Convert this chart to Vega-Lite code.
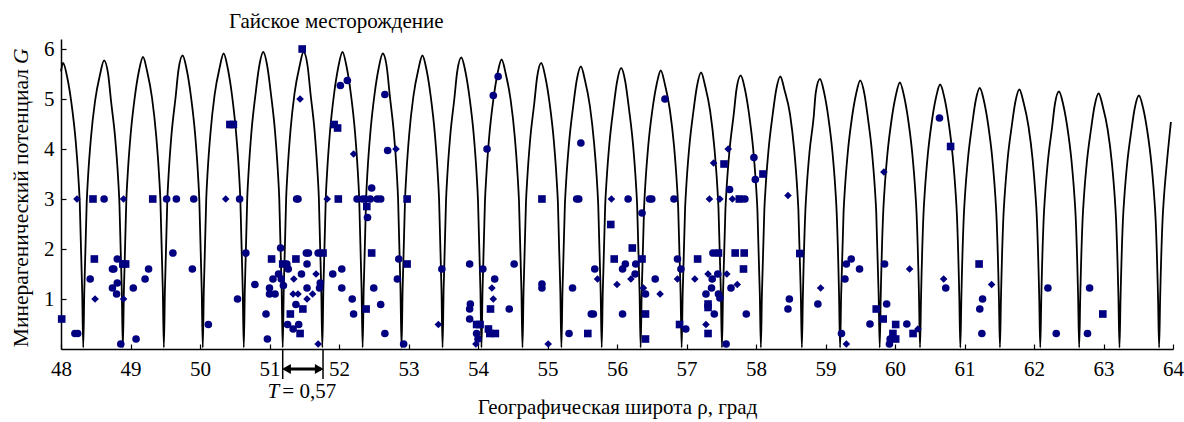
{
"$schema": "https://vega.github.io/schema/vega-lite/v6.json",
"width": 1112, "height": 310,
"autosize": {"type": "none"},
"padding": {"left": 61, "top": 39, "right": 11, "bottom": 73},
"background": "white",
"config": {"view": {"stroke": null},
"axis": {"grid": false, "domainColor": "black", "domainWidth": 1.5, "tickColor": "black", "tickSize": -5, "tickWidth": 1.2,
"labelFont": "Liberation Serif", "labelFontSize": 21, "labelColor": "black", "labelFlush": false, "labelOverlap": false,
"titleFont": "Liberation Serif", "titleFontSize": 21, "titleFontWeight": "normal", "titleColor": "black"}},
"data": {"values": [{}]},
"datasets": {
"curve": [
{"x":48.00,"y":5.55},{"x":48.03,"y":5.72},{"x":48.09,"y":5.43},{"x":48.15,"y":4.92},{"x":48.21,"y":4.18},{"x":48.25,"y":3.43},{"x":48.27,"y":2.92},{"x":48.305,"y":1.14},{"x":48.32,"y":0.03},
{"x":48.335,"y":1.15},{"x":48.37,"y":2.94},{"x":48.39,"y":3.46},{"x":48.43,"y":4.21},{"x":48.49,"y":4.96},{"x":48.56,"y":5.48},{"x":48.62,"y":5.77},{"x":48.68,"y":5.48},{"x":48.72,"y":4.96},{"x":48.78,"y":4.21},{"x":48.82,"y":3.46},{"x":48.84,"y":2.94},{"x":48.875,"y":1.15},{"x":48.89,"y":0.03},
{"x":48.905,"y":1.17},{"x":48.94,"y":2.98},{"x":48.96,"y":3.50},{"x":49.00,"y":4.26},{"x":49.06,"y":5.02},{"x":49.12,"y":5.55},{"x":49.18,"y":5.84},{"x":49.24,"y":5.55},{"x":49.31,"y":5.02},{"x":49.37,"y":4.26},{"x":49.41,"y":3.50},{"x":49.43,"y":2.98},{"x":49.465,"y":1.17},{"x":49.48,"y":0.03},
{"x":49.495,"y":1.17},{"x":49.53,"y":2.99},{"x":49.55,"y":3.52},{"x":49.59,"y":4.29},{"x":49.65,"y":5.05},{"x":49.69,"y":5.58},{"x":49.75,"y":5.87},{"x":49.81,"y":5.58},{"x":49.87,"y":5.05},{"x":49.93,"y":4.29},{"x":49.97,"y":3.52},{"x":49.99,"y":2.99},{"x":50.025,"y":1.17},{"x":50.04,"y":0.03},
{"x":50.055,"y":1.18},{"x":50.09,"y":3.01},{"x":50.11,"y":3.55},{"x":50.15,"y":4.31},{"x":50.21,"y":5.08},{"x":50.28,"y":5.61},{"x":50.34,"y":5.91},{"x":50.40,"y":5.61},{"x":50.46,"y":5.08},{"x":50.52,"y":4.31},{"x":50.56,"y":3.55},{"x":50.58,"y":3.01},{"x":50.615,"y":1.18},{"x":50.63,"y":0.03},
{"x":50.645,"y":1.19},{"x":50.68,"y":3.03},{"x":50.70,"y":3.56},{"x":50.74,"y":4.34},{"x":50.80,"y":5.11},{"x":50.85,"y":5.64},{"x":50.91,"y":5.94},{"x":50.97,"y":5.64},{"x":51.02,"y":5.11},{"x":51.08,"y":4.34},{"x":51.12,"y":3.56},{"x":51.14,"y":3.03},{"x":51.175,"y":1.19},{"x":51.19,"y":0.03},
{"x":51.205,"y":1.19},{"x":51.24,"y":3.03},{"x":51.26,"y":3.56},{"x":51.30,"y":4.34},{"x":51.36,"y":5.11},{"x":51.43,"y":5.64},{"x":51.49,"y":5.94},{"x":51.55,"y":5.64},{"x":51.59,"y":5.11},{"x":51.65,"y":4.34},{"x":51.69,"y":3.56},{"x":51.71,"y":3.03},{"x":51.745,"y":1.19},{"x":51.76,"y":0.03},
{"x":51.775,"y":1.19},{"x":51.81,"y":3.03},{"x":51.83,"y":3.56},{"x":51.87,"y":4.34},{"x":51.93,"y":5.11},{"x":51.99,"y":5.64},{"x":52.05,"y":5.94},{"x":52.11,"y":5.64},{"x":52.17,"y":5.11},{"x":52.23,"y":4.34},{"x":52.27,"y":3.56},{"x":52.29,"y":3.03},{"x":52.325,"y":1.19},{"x":52.34,"y":0.03},
{"x":52.355,"y":1.18},{"x":52.39,"y":3.01},{"x":52.41,"y":3.55},{"x":52.45,"y":4.31},{"x":52.51,"y":5.08},{"x":52.57,"y":5.61},{"x":52.63,"y":5.91},{"x":52.69,"y":5.61},{"x":52.73,"y":5.08},{"x":52.79,"y":4.31},{"x":52.83,"y":3.55},{"x":52.85,"y":3.01},{"x":52.885,"y":1.18},{"x":52.90,"y":0.03},
{"x":52.915,"y":1.17},{"x":52.95,"y":2.99},{"x":52.97,"y":3.52},{"x":53.01,"y":4.29},{"x":53.07,"y":5.05},{"x":53.14,"y":5.58},{"x":53.20,"y":5.87},{"x":53.26,"y":5.58},{"x":53.32,"y":5.05},{"x":53.38,"y":4.29},{"x":53.42,"y":3.52},{"x":53.44,"y":2.99},{"x":53.475,"y":1.17},{"x":53.49,"y":0.03},
{"x":53.505,"y":1.17},{"x":53.54,"y":2.97},{"x":53.56,"y":3.50},{"x":53.60,"y":4.26},{"x":53.66,"y":5.01},{"x":53.70,"y":5.54},{"x":53.76,"y":5.83},{"x":53.82,"y":5.54},{"x":53.88,"y":5.01},{"x":53.94,"y":4.26},{"x":53.98,"y":3.50},{"x":54.00,"y":2.97},{"x":54.035,"y":1.17},{"x":54.05,"y":0.03},
{"x":54.065,"y":1.16},{"x":54.10,"y":2.95},{"x":54.12,"y":3.47},{"x":54.16,"y":4.23},{"x":54.22,"y":4.98},{"x":54.28,"y":5.50},{"x":54.34,"y":5.79},{"x":54.40,"y":5.50},{"x":54.47,"y":4.98},{"x":54.53,"y":4.23},{"x":54.57,"y":3.47},{"x":54.59,"y":2.95},{"x":54.625,"y":1.16},{"x":54.64,"y":0.03},
{"x":54.655,"y":1.14},{"x":54.69,"y":2.92},{"x":54.71,"y":3.43},{"x":54.75,"y":4.18},{"x":54.81,"y":4.92},{"x":54.85,"y":5.43},{"x":54.91,"y":5.72},{"x":54.97,"y":5.43},{"x":55.03,"y":4.92},{"x":55.09,"y":4.18},{"x":55.13,"y":3.43},{"x":55.15,"y":2.92},{"x":55.185,"y":1.14},{"x":55.20,"y":0.03},
{"x":55.215,"y":1.13},{"x":55.25,"y":2.88},{"x":55.27,"y":3.39},{"x":55.31,"y":4.12},{"x":55.37,"y":4.86},{"x":55.42,"y":5.37},{"x":55.48,"y":5.65},{"x":55.54,"y":5.37},{"x":55.61,"y":4.86},{"x":55.67,"y":4.12},{"x":55.71,"y":3.39},{"x":55.73,"y":2.88},{"x":55.765,"y":1.13},{"x":55.78,"y":0.03},
{"x":55.795,"y":1.12},{"x":55.83,"y":2.87},{"x":55.85,"y":3.37},{"x":55.89,"y":4.10},{"x":55.95,"y":4.83},{"x":56.00,"y":5.34},{"x":56.06,"y":5.62},{"x":56.12,"y":5.34},{"x":56.17,"y":4.83},{"x":56.23,"y":4.10},{"x":56.27,"y":3.37},{"x":56.29,"y":2.87},{"x":56.325,"y":1.12},{"x":56.34,"y":0.03},
{"x":56.355,"y":1.11},{"x":56.39,"y":2.84},{"x":56.41,"y":3.34},{"x":56.45,"y":4.07},{"x":56.51,"y":4.79},{"x":56.57,"y":5.29},{"x":56.63,"y":5.57},{"x":56.69,"y":5.29},{"x":56.76,"y":4.79},{"x":56.82,"y":4.07},{"x":56.86,"y":3.34},{"x":56.88,"y":2.84},{"x":56.915,"y":1.11},{"x":56.93,"y":0.03},
{"x":56.945,"y":1.11},{"x":56.98,"y":2.82},{"x":57.00,"y":3.32},{"x":57.04,"y":4.04},{"x":57.10,"y":4.76},{"x":57.15,"y":5.25},{"x":57.21,"y":5.53},{"x":57.27,"y":5.25},{"x":57.34,"y":4.76},{"x":57.40,"y":4.04},{"x":57.44,"y":3.32},{"x":57.46,"y":2.82},{"x":57.495,"y":1.11},{"x":57.51,"y":0.03},
{"x":57.525,"y":1.09},{"x":57.56,"y":2.79},{"x":57.58,"y":3.28},{"x":57.62,"y":3.99},{"x":57.68,"y":4.70},{"x":57.72,"y":5.20},{"x":57.78,"y":5.47},{"x":57.84,"y":5.20},{"x":57.90,"y":4.70},{"x":57.96,"y":3.99},{"x":58.00,"y":3.28},{"x":58.02,"y":2.79},{"x":58.055,"y":1.09},{"x":58.07,"y":0.03},
{"x":58.085,"y":1.09},{"x":58.12,"y":2.78},{"x":58.14,"y":3.27},{"x":58.18,"y":3.98},{"x":58.24,"y":4.69},{"x":58.29,"y":5.18},{"x":58.35,"y":5.45},{"x":58.41,"y":5.18},{"x":58.49,"y":4.69},{"x":58.55,"y":3.98},{"x":58.59,"y":3.27},{"x":58.61,"y":2.78},{"x":58.645,"y":1.09},{"x":58.66,"y":0.03},
{"x":58.675,"y":1.08},{"x":58.71,"y":2.75},{"x":58.73,"y":3.24},{"x":58.77,"y":3.94},{"x":58.83,"y":4.64},{"x":58.86,"y":5.13},{"x":58.92,"y":5.40},{"x":58.98,"y":5.13},{"x":59.04,"y":4.64},{"x":59.10,"y":3.94},{"x":59.14,"y":3.24},{"x":59.16,"y":2.75},{"x":59.195,"y":1.08},{"x":59.21,"y":0.03},
{"x":59.225,"y":1.07},{"x":59.26,"y":2.74},{"x":59.28,"y":3.22},{"x":59.32,"y":3.92},{"x":59.38,"y":4.62},{"x":59.44,"y":5.10},{"x":59.50,"y":5.37},{"x":59.56,"y":5.10},{"x":59.61,"y":4.62},{"x":59.67,"y":3.92},{"x":59.71,"y":3.22},{"x":59.73,"y":2.74},{"x":59.765,"y":1.07},{"x":59.78,"y":0.03},
{"x":59.795,"y":1.07},{"x":59.83,"y":2.72},{"x":59.85,"y":3.20},{"x":59.89,"y":3.89},{"x":59.95,"y":4.58},{"x":60.01,"y":5.06},{"x":60.07,"y":5.33},{"x":60.13,"y":5.06},{"x":60.19,"y":4.58},{"x":60.25,"y":3.89},{"x":60.29,"y":3.20},{"x":60.31,"y":2.72},{"x":60.345,"y":1.07},{"x":60.36,"y":0.03},
{"x":60.375,"y":1.06},{"x":60.41,"y":2.70},{"x":60.43,"y":3.17},{"x":60.47,"y":3.86},{"x":60.53,"y":4.55},{"x":60.59,"y":5.03},{"x":60.65,"y":5.29},{"x":60.71,"y":5.03},{"x":60.77,"y":4.55},{"x":60.83,"y":3.86},{"x":60.87,"y":3.17},{"x":60.89,"y":2.70},{"x":60.925,"y":1.06},{"x":60.94,"y":0.03},
{"x":60.955,"y":1.04},{"x":60.99,"y":2.66},{"x":61.01,"y":3.13},{"x":61.05,"y":3.81},{"x":61.11,"y":4.49},{"x":61.16,"y":4.96},{"x":61.22,"y":5.22},{"x":61.28,"y":4.96},{"x":61.34,"y":4.49},{"x":61.40,"y":3.81},{"x":61.44,"y":3.13},{"x":61.46,"y":2.66},{"x":61.495,"y":1.04},{"x":61.51,"y":0.03},
{"x":61.525,"y":1.04},{"x":61.56,"y":2.65},{"x":61.58,"y":3.11},{"x":61.62,"y":3.79},{"x":61.68,"y":4.46},{"x":61.73,"y":4.93},{"x":61.79,"y":5.19},{"x":61.85,"y":4.93},{"x":61.92,"y":4.46},{"x":61.98,"y":3.79},{"x":62.02,"y":3.11},{"x":62.04,"y":2.65},{"x":62.075,"y":1.04},{"x":62.09,"y":0.03},
{"x":62.105,"y":1.03},{"x":62.14,"y":2.63},{"x":62.16,"y":3.09},{"x":62.20,"y":3.76},{"x":62.26,"y":4.43},{"x":62.30,"y":4.89},{"x":62.36,"y":5.15},{"x":62.42,"y":4.89},{"x":62.48,"y":4.43},{"x":62.54,"y":3.76},{"x":62.58,"y":3.09},{"x":62.60,"y":2.63},{"x":62.635,"y":1.03},{"x":62.65,"y":0.03},
{"x":62.665,"y":1.02},{"x":62.70,"y":2.61},{"x":62.72,"y":3.07},{"x":62.76,"y":3.73},{"x":62.82,"y":4.39},{"x":62.87,"y":4.85},{"x":62.93,"y":5.11},{"x":62.99,"y":4.85},{"x":63.06,"y":4.39},{"x":63.12,"y":3.73},{"x":63.16,"y":3.07},{"x":63.18,"y":2.61},{"x":63.215,"y":1.02},{"x":63.23,"y":0.03},
{"x":63.245,"y":1.01},{"x":63.28,"y":2.59},{"x":63.30,"y":3.04},{"x":63.34,"y":3.70},{"x":63.40,"y":4.36},{"x":63.45,"y":4.82},{"x":63.51,"y":5.07},{"x":63.57,"y":4.82},{"x":63.63,"y":4.36},{"x":63.69,"y":3.70},{"x":63.73,"y":3.04},{"x":63.75,"y":2.59},{"x":63.785,"y":1.01},{"x":63.80,"y":0.03},
{"x":63.815,"y":1.01},{"x":63.85,"y":2.59},{"x":63.87,"y":3.04},{"x":63.91,"y":3.70},{"x":63.97,"y":4.54}
],
"pts": [
{"x":48.01,"y":0.60,"s":"s"},{"x":48.20,"y":0.31,"s":"c"},{"x":48.24,"y":0.31,"s":"c"},{"x":48.23,"y":3.0,"s":"d"},{"x":48.46,"y":3.0,"s":"s"},{"x":48.62,"y":3.0,"s":"c"},{"x":48.90,"y":3.0,"s":"d"},{"x":48.48,"y":1.8,"s":"s"},{"x":48.42,"y":1.4,"s":"c"},{"x":48.49,"y":1.0,"s":"d"},{"x":48.74,"y":1.6,"s":"c"},{"x":48.76,"y":1.6,"s":"c"},{"x":48.74,"y":1.22,"s":"c"},{"x":48.81,"y":1.8,"s":"c"},{"x":48.81,"y":1.32,"s":"c"},{"x":48.80,"y":1.1,"s":"c"},{"x":48.89,"y":1.7,"s":"s"},{"x":48.93,"y":1.7,"s":"s"},{"x":48.90,"y":1.0,"s":"d"},{"x":48.86,"y":0.1,"s":"c"},{"x":49.04,"y":1.22,"s":"c"},{"x":49.08,"y":0.2,"s":"c"},{"x":49.21,"y":1.4,"s":"c"},{"x":49.26,"y":1.6,"s":"c"},{"x":49.32,"y":3.0,"s":"s"},{"x":49.52,"y":3.0,"s":"c"},{"x":49.66,"y":3.0,"s":"c"},{"x":49.61,"y":1.92,"s":"c"},{"x":49.91,"y":3.0,"s":"c"},{"x":49.89,"y":1.6,"s":"c"},{"x":50.12,"y":0.49,"s":"c"},{"x":50.37,"y":3.0,"s":"d"},{"x":50.57,"y":3.0,"s":"c"},{"x":50.54,"y":1.0,"s":"c"},{"x":50.66,"y":1.92,"s":"c"},{"x":50.79,"y":1.29,"s":"c"},{"x":50.95,"y":0.7,"s":"c"},{"x":50.97,"y":0.2,"s":"c"},{"x":51.00,"y":1.22,"s":"c"},{"x":51.00,"y":1.1,"s":"c"},{"x":51.03,"y":1.8,"s":"s"},{"x":51.05,"y":1.4,"s":"c"},{"x":51.08,"y":1.1,"s":"c"},{"x":51.16,"y":2.02,"s":"c"},{"x":51.13,"y":1.5,"s":"c"},{"x":51.17,"y":1.4,"s":"c"},{"x":51.20,"y":1.27,"s":"c"},{"x":51.19,"y":1.7,"s":"s"},{"x":51.25,"y":1.7,"s":"c"},{"x":51.27,"y":1.6,"s":"c"},{"x":51.26,"y":0.49,"s":"c"},{"x":51.30,"y":0.7,"s":"s"},{"x":51.34,"y":0.4,"s":"c"},{"x":51.34,"y":1.1,"s":"d"},{"x":51.35,"y":1.4,"s":"d"},{"x":51.38,"y":1.8,"s":"s"},{"x":51.39,"y":3.0,"s":"c"},{"x":51.41,"y":3.0,"s":"c"},{"x":51.38,"y":0.89,"s":"c"},{"x":51.41,"y":1.1,"s":"d"},{"x":51.42,"y":0.49,"s":"c"},{"x":51.44,"y":0.31,"s":"s"},{"x":51.46,"y":1.5,"s":"c"},{"x":51.48,"y":0.8,"s":"s"},{"x":51.54,"y":1.22,"s":"c"},{"x":51.54,"y":1.0,"s":"d"},{"x":51.53,"y":1.92,"s":"c"},{"x":51.56,"y":1.92,"s":"c"},{"x":51.54,"y":1.7,"s":"c"},{"x":51.62,"y":1.1,"s":"d"},{"x":51.67,"y":1.5,"s":"d"},{"x":51.70,"y":1.92,"s":"c"},{"x":51.70,"y":0.1,"s":"d"},{"x":51.72,"y":1.22,"s":"c"},{"x":51.73,"y":1.32,"s":"c"},{"x":51.77,"y":1.92,"s":"s"},{"x":51.83,"y":3.0,"s":"d"},{"x":51.99,"y":3.0,"s":"s"},{"x":51.91,"y":1.5,"s":"c"},{"x":52.04,"y":1.6,"s":"c"},{"x":52.04,"y":1.22,"s":"c"},{"x":52.19,"y":1.0,"s":"c"},{"x":52.21,"y":0.7,"s":"c"},{"x":52.26,"y":3.0,"s":"c"},{"x":52.34,"y":3.0,"s":"c"},{"x":52.39,"y":0.8,"s":"s"},{"x":52.38,"y":3.0,"s":"c"},{"x":52.45,"y":3.0,"s":"c"},{"x":52.47,"y":3.22,"s":"c"},{"x":52.40,"y":2.85,"s":"s"},{"x":52.41,"y":2.63,"s":"c"},{"x":52.47,"y":1.92,"s":"s"},{"x":52.50,"y":1.22,"s":"c"},{"x":52.55,"y":3.0,"s":"c"},{"x":52.60,"y":3.0,"s":"c"},{"x":52.60,"y":0.89,"s":"c"},{"x":52.66,"y":0.31,"s":"c"},{"x":52.86,"y":1.8,"s":"c"},{"x":52.84,"y":1.4,"s":"c"},{"x":52.98,"y":1.7,"s":"s"},{"x":52.98,"y":3.0,"s":"s"},{"x":52.93,"y":0.1,"s":"c"},
{"x":50.43,"y":4.49,"s":"s"},{"x":50.48,"y":4.49,"s":"s"},{"x":51.47,"y":6.0,"s":"s"},{"x":51.44,"y":5.0,"s":"d"},{"x":51.93,"y":4.49,"s":"s"},{"x":51.98,"y":4.42,"s":"s"},{"x":52.02,"y":5.27,"s":"c"},{"x":52.12,"y":5.37,"s":"c"},{"x":52.21,"y":3.9,"s":"d"},{"x":52.66,"y":5.09,"s":"c"},{"x":52.70,"y":3.97,"s":"c"},{"x":52.82,"y":4.0,"s":"d"},
{"x":53.48,"y":1.6,"s":"c"},{"x":53.43,"y":0.49,"s":"d"},{"x":53.88,"y":1.7,"s":"c"},{"x":54.07,"y":1.6,"s":"c"},{"x":54.13,"y":4.0,"s":"c"},{"x":54.22,"y":5.07,"s":"c"},{"x":54.29,"y":5.45,"s":"c"},{"x":54.24,"y":1.4,"s":"c"},{"x":54.20,"y":1.22,"s":"d"},{"x":54.22,"y":1.0,"s":"d"},{"x":53.89,"y":0.9,"s":"c"},{"x":53.88,"y":0.8,"s":"c"},{"x":54.18,"y":0.8,"s":"s"},{"x":54.45,"y":0.8,"s":"c"},{"x":54.52,"y":1.7,"s":"c"},{"x":53.88,"y":0.6,"s":"c"},{"x":53.98,"y":0.49,"s":"s"},{"x":54.03,"y":0.49,"s":"s"},{"x":53.98,"y":0.31,"s":"c"},{"x":54.15,"y":0.4,"s":"s"},{"x":54.17,"y":0.31,"s":"s"},{"x":54.25,"y":0.31,"s":"s"},{"x":53.97,"y":0.1,"s":"d"},{"x":54.00,"y":0.2,"s":"c"},
{"x":54.92,"y":3.0,"s":"s"},{"x":54.92,"y":1.3,"s":"c"},{"x":54.92,"y":1.22,"s":"c"},{"x":55.01,"y":0.1,"s":"d"},{"x":55.42,"y":3.0,"s":"c"},{"x":55.45,"y":3.0,"s":"c"},{"x":55.48,"y":4.12,"s":"c"},{"x":55.36,"y":1.22,"s":"c"},{"x":55.31,"y":0.31,"s":"c"},{"x":55.58,"y":0.31,"s":"s"},{"x":55.63,"y":0.7,"s":"c"},{"x":55.66,"y":0.7,"s":"c"},{"x":55.68,"y":1.6,"s":"c"},{"x":55.72,"y":1.4,"s":"d"},{"x":55.91,"y":2.49,"s":"s"},{"x":55.92,"y":3.0,"s":"d"},{"x":55.96,"y":1.8,"s":"s"},{"x":56.00,"y":1.29,"s":"d"},{"x":56.08,"y":0.7,"s":"c"},{"x":56.08,"y":1.6,"s":"c"},{"x":56.12,"y":1.7,"s":"c"},{"x":56.16,"y":3.0,"s":"c"},{"x":56.22,"y":2.02,"s":"s"},{"x":56.20,"y":1.4,"s":"d"},{"x":56.26,"y":1.5,"s":"c"},{"x":56.27,"y":1.7,"s":"c"},{"x":56.36,"y":2.72,"s":"c"},{"x":56.36,"y":1.8,"s":"s"},{"x":56.38,"y":1.22,"s":"d"},{"x":56.41,"y":1.1,"s":"c"},{"x":56.41,"y":0.7,"s":"s"},{"x":56.41,"y":0.2,"s":"s"},{"x":56.47,"y":3.0,"s":"c"},{"x":56.50,"y":3.0,"s":"c"},{"x":56.55,"y":1.4,"s":"c"},{"x":56.62,"y":1.1,"s":"d"},{"x":56.69,"y":5.0,"s":"c"},{"x":56.82,"y":3.0,"s":"c"},{"x":56.87,"y":1.8,"s":"c"},{"x":56.92,"y":1.6,"s":"c"},{"x":56.87,"y":1.4,"s":"d"},{"x":56.90,"y":0.49,"s":"s"},{"x":56.99,"y":0.4,"s":"c"},{"x":57.12,"y":1.4,"s":"d"},{"x":57.16,"y":1.8,"s":"s"},{"x":57.28,"y":0.49,"s":"d"},{"x":57.31,"y":0.31,"s":"s"},{"x":57.28,"y":1.1,"s":"c"},{"x":57.31,"y":0.9,"s":"s"},{"x":57.31,"y":0.83,"s":"s"},{"x":57.31,"y":1.5,"s":"d"},{"x":57.33,"y":3.0,"s":"d"},{"x":57.36,"y":1.22,"s":"c"},{"x":57.37,"y":1.4,"s":"c"},{"x":57.40,"y":0.7,"s":"c"},{"x":57.38,"y":1.92,"s":"c"},{"x":57.46,"y":1.92,"s":"s"},{"x":57.45,"y":1.5,"s":"c"},{"x":57.46,"y":1.1,"s":"c"},{"x":57.48,"y":1.02,"s":"c"},{"x":57.48,"y":3.0,"s":"d"},{"x":57.57,"y":0.1,"s":"c"},{"x":57.58,"y":1.5,"s":"d"},{"x":57.62,"y":3.19,"s":"c"},{"x":57.66,"y":3.0,"s":"d"},{"x":57.64,"y":1.22,"s":"c"},{"x":57.70,"y":1.92,"s":"s"},{"x":57.73,"y":1.29,"s":"d"},{"x":57.76,"y":3.0,"s":"s"},{"x":57.83,"y":1.92,"s":"s"},{"x":57.82,"y":1.6,"s":"s"},{"x":57.84,"y":3.0,"s":"c"},{"x":57.86,"y":0.7,"s":"c"},{"x":57.39,"y":3.72,"s":"d"},{"x":57.54,"y":3.7,"s":"s"},{"x":57.60,"y":4.0,"s":"d"},{"x":57.97,"y":3.83,"s":"c"},{"x":57.99,"y":3.39,"s":"c"},{"x":58.10,"y":3.5,"s":"s"},
{"x":58.46,"y":3.07,"s":"d"},{"x":58.63,"y":1.91,"s":"s"},{"x":58.48,"y":1.0,"s":"c"},{"x":58.46,"y":0.8,"s":"c"},{"x":58.93,"y":1.22,"s":"d"},{"x":58.89,"y":0.9,"s":"c"},{"x":59.23,"y":0.31,"s":"c"},{"x":59.30,"y":0.1,"s":"d"},{"x":59.28,"y":1.4,"s":"c"},{"x":59.30,"y":1.7,"s":"c"},{"x":59.37,"y":1.8,"s":"c"},{"x":59.49,"y":1.6,"s":"c"},{"x":59.64,"y":0.5,"s":"c"},{"x":59.73,"y":0.8,"s":"s"},{"x":59.83,"y":0.6,"s":"s"},{"x":59.85,"y":1.7,"s":"c"},{"x":59.84,"y":3.54,"s":"d"},{"x":59.88,"y":0.9,"s":"c"},{"x":59.97,"y":0.31,"s":"s"},{"x":59.93,"y":0.2,"s":"c"},{"x":59.92,"y":0.1,"s":"c"},{"x":60.01,"y":0.49,"s":"s"},{"x":60.01,"y":0.2,"s":"s"},{"x":60.17,"y":0.5,"s":"c"},{"x":60.21,"y":1.6,"s":"d"},{"x":60.26,"y":0.31,"s":"s"},{"x":60.33,"y":0.4,"s":"d"},{"x":60.64,"y":4.62,"s":"c"},{"x":60.80,"y":4.05,"s":"s"},{"x":60.70,"y":1.4,"s":"d"},{"x":60.73,"y":1.22,"s":"c"},{"x":61.21,"y":1.7,"s":"s"},{"x":61.26,"y":1.0,"s":"c"},{"x":61.22,"y":0.8,"s":"c"},{"x":61.25,"y":0.31,"s":"c"},{"x":61.39,"y":1.29,"s":"d"},{"x":62.20,"y":1.22,"s":"c"},{"x":62.32,"y":0.31,"s":"c"},{"x":62.80,"y":1.22,"s":"c"},{"x":62.77,"y":0.31,"s":"c"},{"x":62.99,"y":0.7,"s":"s"}
]
},
"layer": [
{
"data": {"name": "curve"},
"mark": {"type": "line", "color": "black", "strokeWidth": 1.8, "interpolate": "monotone"},
"encoding": {
"x": {"field": "x", "type": "quantitative",
"scale": {"domain": [48, 64], "nice": false, "zero": false},
"axis": {"title": "Географическая широта ρ, град", "values": [48,49,50,51,52,53,54,55,56,57,58,59,60,61,62,63,64], "format": "d", "labelPadding": 14, "titlePadding": 17}},
"y": {"field": "y", "type": "quantitative",
"scale": {"domain": [0, 6.2], "nice": false, "zero": false},
"axis": {"title": null, "values": [1,2,3,4,5,6], "format": "d", "labelPadding": 12}}
}
},
{
"data": {"name": "pts"},
"mark": {"type": "point", "filled": true, "opacity": 1, "color": "#000080", "size": 58},
"encoding": {
"x": {"field": "x", "type": "quantitative"},
"y": {"field": "y", "type": "quantitative"},
"shape": {"field": "s", "type": "nominal", "legend": null, "scale": {"domain": ["c", "s", "d"], "range": ["circle", "square", "diamond"]}}
}
},
{
"mark": {"type": "rule", "color": "black", "strokeWidth": 1.5},
"encoding": {"x": {"datum": 51.19, "type": "quantitative"}, "y": {"datum": 0, "type": "quantitative"}, "y2": {"datum": -0.6}}
},
{
"mark": {"type": "rule", "color": "black", "strokeWidth": 1.5},
"encoding": {"x": {"datum": 51.77, "type": "quantitative"}, "y": {"datum": 0, "type": "quantitative"}, "y2": {"datum": -0.6}}
},
{
"mark": {"type": "rule", "color": "black", "strokeWidth": 3},
"encoding": {"x": {"datum": 51.22, "type": "quantitative"}, "x2": {"datum": 51.74}, "y": {"datum": -0.4, "type": "quantitative"}}
},
{
"mark": {"type": "point", "shape": "triangle-left", "filled": true, "opacity": 1, "color": "black", "size": 100},
"encoding": {"x": {"datum": 51.245, "type": "quantitative"}, "y": {"datum": -0.4, "type": "quantitative"}}
},
{
"mark": {"type": "point", "shape": "triangle-right", "filled": true, "opacity": 1, "color": "black", "size": 100},
"encoding": {"x": {"datum": 51.715, "type": "quantitative"}, "y": {"datum": -0.4, "type": "quantitative"}}
},
{
"mark": {"type": "text", "font": "Liberation Serif", "fontSize": 21, "fontStyle": "italic", "align": "right", "baseline": "middle", "color": "black"},
"encoding": {"x": {"datum": 51.14, "type": "quantitative"}, "y": {"datum": -0.86, "type": "quantitative"}, "text": {"value": "T"}}
},
{
"mark": {"type": "text", "font": "Liberation Serif", "fontSize": 21, "align": "left", "baseline": "middle", "color": "black"},
"encoding": {"x": {"datum": 51.185, "type": "quantitative"}, "y": {"datum": -0.86, "type": "quantitative"}, "text": {"value": "= 0,57"}}
},
{
"mark": {"type": "text", "font": "Liberation Serif", "fontSize": 21, "align": "center", "baseline": "middle", "color": "black"},
"encoding": {"x": {"datum": 51.96, "type": "quantitative"}, "y": {"datum": 6.55, "type": "quantitative"}, "text": {"value": "Гайское месторождение"}}
},
{
"mark": {"type": "text", "font": "Liberation Serif", "fontSize": 21.5, "angle": 270, "align": "right", "baseline": "middle", "color": "black"},
"encoding": {"x": {"datum": 47.44, "type": "quantitative"}, "y": {"datum": 5.6, "type": "quantitative"}, "text": {"value": "Минерагенический потенциал"}}
},
{
"mark": {"type": "text", "font": "Liberation Serif", "fontSize": 21.5, "fontStyle": "italic", "angle": 270, "align": "left", "baseline": "middle", "color": "black"},
"encoding": {"x": {"datum": 47.44, "type": "quantitative"}, "y": {"datum": 5.7, "type": "quantitative"}, "text": {"value": "G"}}
}
]
}
